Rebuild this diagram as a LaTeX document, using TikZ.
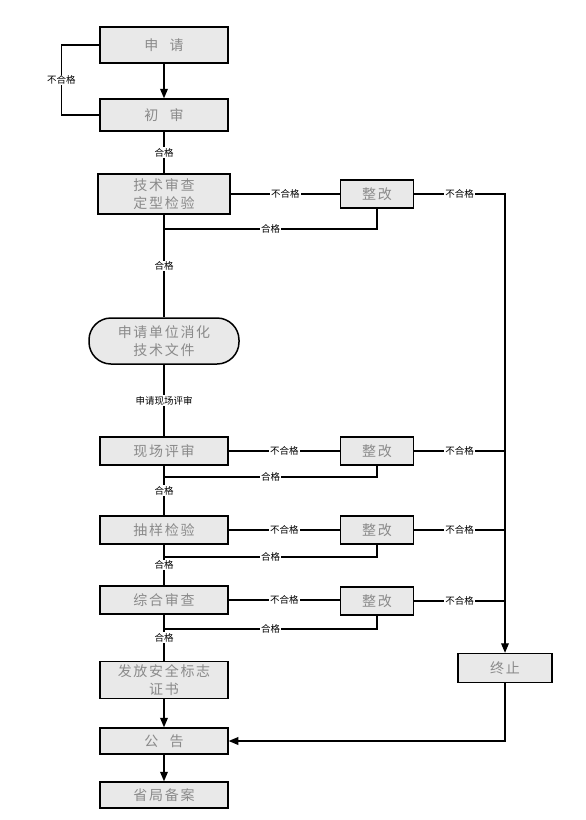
\documentclass[tikz,border=0pt]{standalone}
\usepackage{fontspec}
\setmainfont{Noto Sans CJK SC}
\newfontfamily\boxfont[LetterSpace=12]{Noto Sans CJK SC}
\usetikzlibrary{arrows,positioning,shapes}
\definecolor{boxgray}{HTML}{E9E9E9}
\definecolor{textgray}{HTML}{8A8A8A}
\tikzset{
>=triangle 45,
  stepbox/.style={
    rectangle,
    draw=black, line width=1.5pt,
    fill=boxgray,
    text=textgray,
    font=\boxfont\fontsize{14}{18}\selectfont,
    minimum width=128pt,
    minimum height=28pt,
    inner sep=0pt,
    align=center},
  fixbox/.style={stepbox, minimum width=73pt},
  roundbox/.style={stepbox, rounded corners=22pt, minimum width=150pt, minimum height=46pt},
  line/.style={draw, line width=1.2pt},
  tag/.style={fill=white, inner sep=1pt, text=black, font=\fontsize{9.5}{10}\selectfont},
}

\begin{document}
\begin{tikzpicture}[x=1pt,y=-1pt]
    \useasboundingbox (0,0) rectangle (586,820);

    % main column
    \node[stepbox, minimum height=36pt] (apply) at (164,45) {申\hspace{0.8em}请};
    \node[stepbox, minimum height=32pt] (first) at (164,115) {初\hspace{0.8em}审};
    \node[stepbox, minimum width=132pt, minimum height=40pt] (tech) at (164,194) {技术审查\\定型检验};
    \node[roundbox] (digest) at (164,341) {申请单位消化\\技术文件};
    \node[stepbox] (site) at (164,451) {现场评审};
    \node[stepbox] (sample) at (164,530) {抽样检验};
    \node[stepbox] (review) at (164,600) {综合审查};
    \node[stepbox, minimum height=37pt] (cert) at (164,680) {发放安全标志\\证书};
    \node[stepbox, minimum height=26pt] (notice) at (164,741) {公\hspace{0.8em}告};
    \node[stepbox, minimum height=26pt] (file) at (164,795) {省局备案};

    % rework boxes
    \node[fixbox] (fix1) at (377,194) {整改};
    \node[fixbox] (fix2) at (377,451) {整改};
    \node[fixbox] (fix3) at (377,530) {整改};
    \node[fixbox] (fix4) at (377,601) {整改};
    \node[stepbox, minimum width=94pt, minimum height=29pt] (stop) at (505,668) {终止};

    % return points
    \coordinate (back1) at (164,229);
    \coordinate (back2) at (164,477);
    \coordinate (back3) at (164,557);
    \coordinate (back4) at (164,629);

    % first check
    \draw[line,->] (apply) -- (first);
    \draw[line] (first.west) -- ++(-38,0) |- node[tag, pos=0.25] {不合格} (apply.west);
    \draw[line] (first) -- node[tag] {合格} (tech);

    % checks with rework
    \draw[line] (tech) -- node[tag] {不合格} (fix1);
    \draw[line,->] (fix1.east) -- node[tag] {不合格} (fix1.east -| stop.north) -- (stop.north);
    \draw[line] (fix1.south) |- node[tag, pos=0.75] {合格} (back1);

    \draw[line] (site) -- node[tag] {不合格} (fix2);
    \draw[line] (fix2.east) -- node[tag] {不合格} (fix2.east -| stop.north);
    \draw[line] (fix2.south) |- node[tag, pos=0.75] {合格} (back2);

    \draw[line] (sample) -- node[tag] {不合格} (fix3);
    \draw[line] (fix3.east) -- node[tag] {不合格} (fix3.east -| stop.north);
    \draw[line] (fix3.south) |- node[tag, pos=0.75] {合格} (back3);

    \draw[line] (review.east) -- node[tag] {不合格} (review.east -| fix4.west);
    \draw[line] (fix4.east) -- node[tag] {不合格} (fix4.east -| stop.north);
    \draw[line] (fix4.south) |- node[tag, pos=0.75] {合格} (back4);

    % main line
    \draw[line] (tech) -- node[tag] {合格} (digest);
    \draw[line] (digest) -- node[tag] {申请现场评审} (site);
    \draw[line] (site) -- node[tag] {合格} (sample);
    \draw[line] (sample) -- node[tag] {合格} (review);
    \draw[line] (review) -- node[tag] {合格} (cert);
    \draw[line,->] (cert) -- (notice);
    \draw[line,->] (notice) -- (file);
    \draw[line,->] (stop.south) |- (notice.east);
\end{tikzpicture}
\end{document}
